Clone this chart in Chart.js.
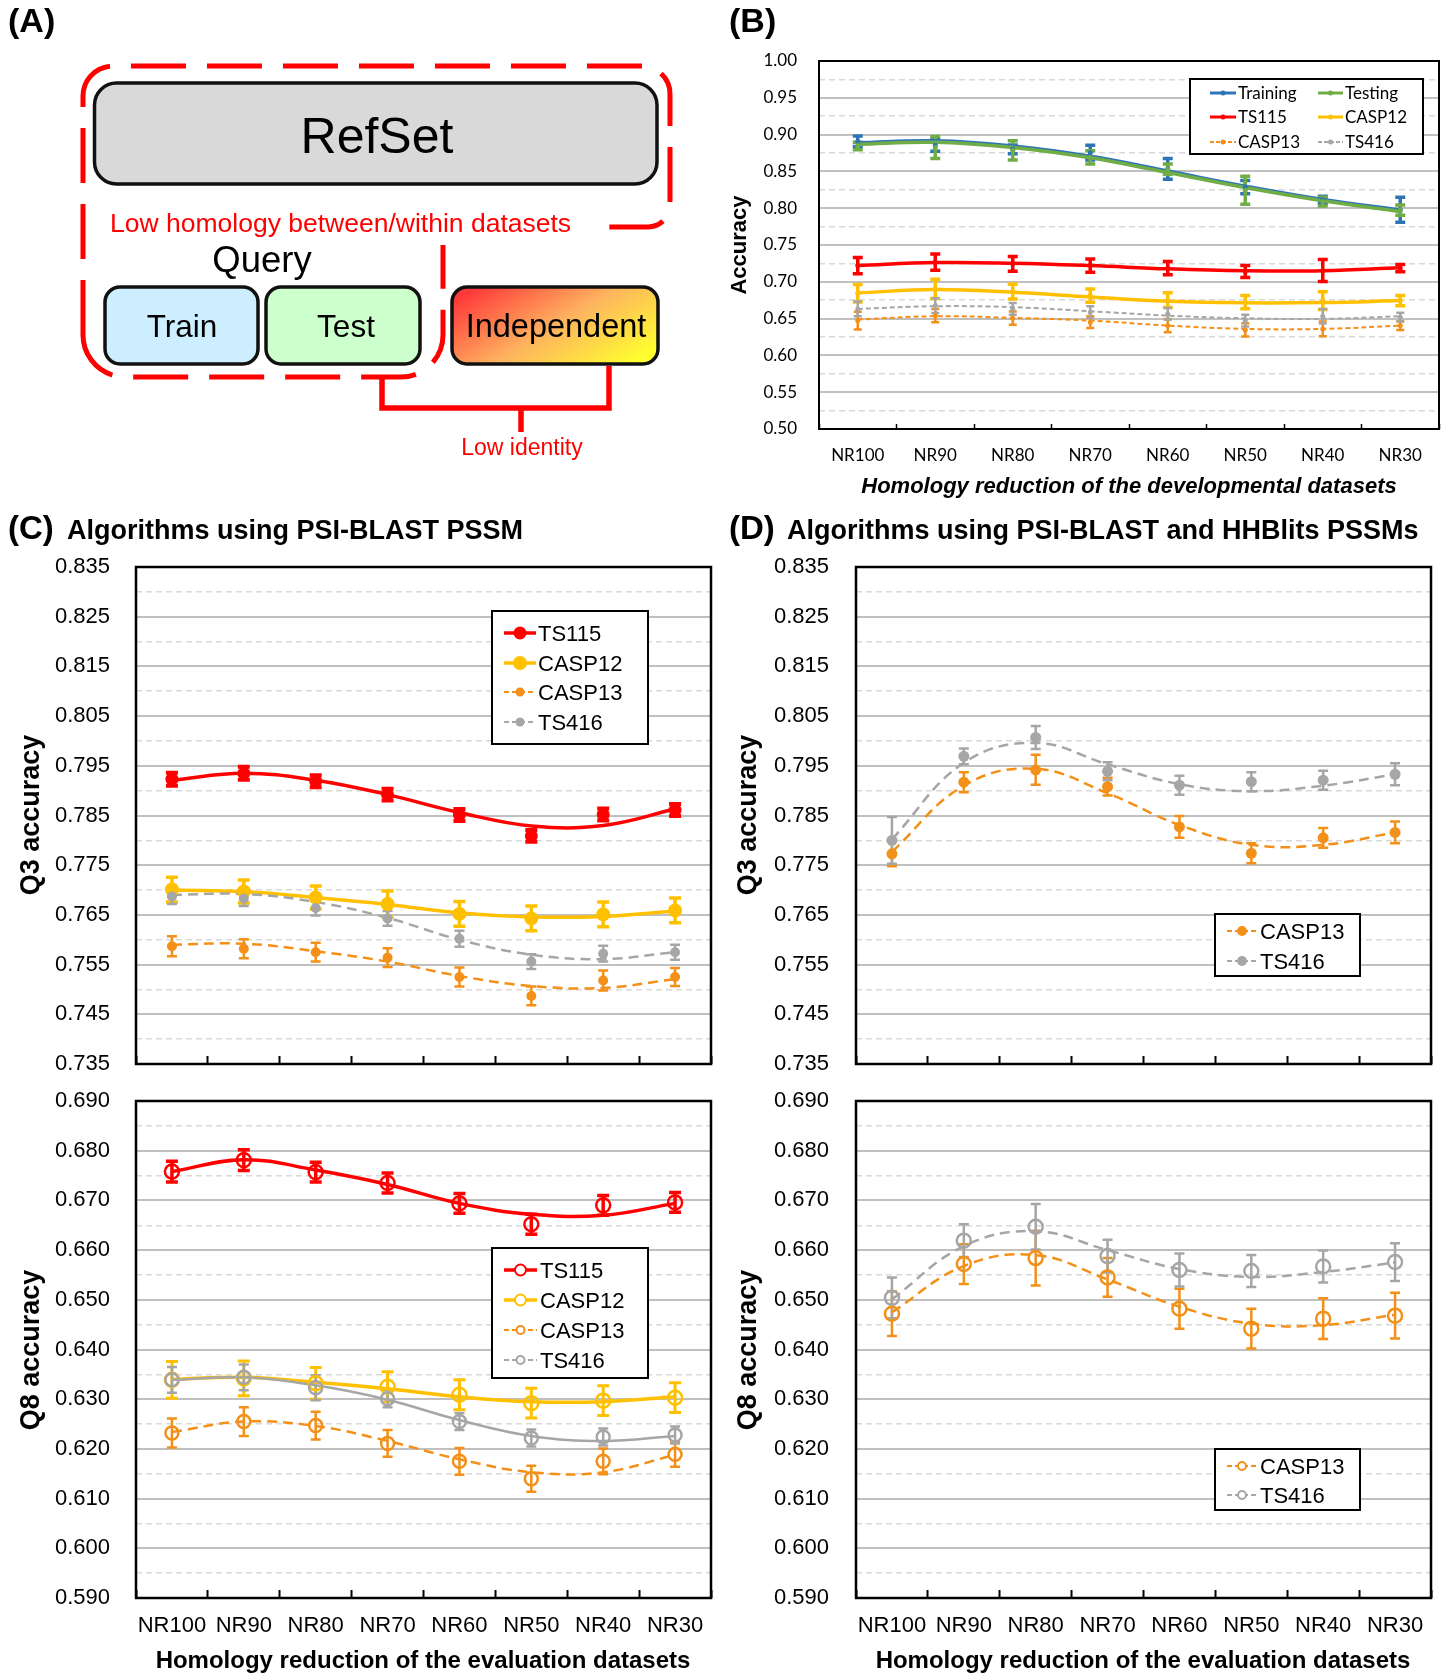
<!DOCTYPE html>
<html>
<head>
<meta charset="utf-8">
<title>Homology reduction and secondary structure accuracy</title>
<script src="https://cdn.jsdelivr.net/npm/chart.js@4.4.1/dist/chart.umd.min.js"></script>
<style>
  html, body { margin: 0; padding: 0; background: #fff; }
  #page { position: relative; width: 1450px; height: 1673px; overflow: hidden; background: #fff; }
  .chartbox { position: absolute; }
  #overlay { position: absolute; left: 0; top: 0; pointer-events: none; }
</style>
</head>
<body>
<div id="page">
  <div id="charts"></div>
  <svg id="overlay" width="1450" height="1673" viewBox="0 0 1450 1673"
       font-family="'Liberation Sans', Arial, sans-serif">
    <defs>
      <linearGradient id="indGrad" x1="0" y1="0.2" x2="1" y2="0.8">
        <stop offset="0" stop-color="#ff3a3a"/>
        <stop offset="0.5" stop-color="#fdb35f"/>
        <stop offset="1" stop-color="#ffff2e"/>
      </linearGradient>
    </defs>

    <!-- (A) dataset scheme -->
    <text x="8" y="32" font-size="34" font-weight="bold">(A)</text>
    <path d="M83,335 L83,96 A30,30 0 0 1 113,66 L642,66 A28,28 0 0 1 670,94 L670,205 A22,22 0 0 1 648,227 L443,227 L443,335 A42,42 0 0 1 401,377 L125,377 A42,42 0 0 1 83,335 Z"
          fill="none" stroke="#ff0000" stroke-width="5" stroke-dasharray="55 21"/>
    <rect x="100" y="203" width="505" height="42" fill="#fff"/>
    <text x="110" y="232" font-size="26.5" fill="#ff0000">Low homology between/within datasets</text>
    <rect x="94.5" y="83" width="562.5" height="101" rx="22" fill="#d9d9d9" stroke="#111" stroke-width="3.5"/>
    <text x="377" y="153" font-size="50" text-anchor="middle">RefSet</text>
    <text x="262" y="272" font-size="36.5" text-anchor="middle">Query</text>
    <rect x="105" y="287" width="153" height="77" rx="15" fill="#cdeeff" stroke="#111" stroke-width="3.5"/>
    <text x="182" y="337" font-size="31.5" text-anchor="middle">Train</text>
    <rect x="266" y="287" width="154" height="77" rx="15" fill="#ccffcc" stroke="#111" stroke-width="3.5"/>
    <text x="346" y="337" font-size="31.5" text-anchor="middle">Test</text>
    <rect x="452" y="287" width="206" height="77" rx="15" fill="url(#indGrad)" stroke="#111" stroke-width="3.5"/>
    <text x="556" y="337" font-size="32.5" text-anchor="middle">Independent</text>
    <path d="M382,377 L382,408 L609,408 L609,366 M521,408 L521,432" fill="none" stroke="#ff0000" stroke-width="5.5"/>
    <text x="522" y="455" font-size="23" fill="#ff0000" text-anchor="middle">Low identity</text>

    <!-- panel labels and titles -->
    <text x="729" y="32" font-size="34" font-weight="bold">(B)</text>
    <text x="8" y="539" font-size="33" font-weight="bold">(C)</text>
    <text x="67" y="539" font-size="27" font-weight="bold">Algorithms using PSI-BLAST PSSM</text>
    <text x="729" y="539" font-size="33" font-weight="bold">(D)</text>
    <text x="787" y="539" font-size="27" font-weight="bold">Algorithms using PSI-BLAST and HHBlits PSSMs</text>

    <!-- axis titles -->
    <text transform="translate(738,245) rotate(-90)" dy="0.35em" text-anchor="middle" font-size="22" font-weight="bold">Accuracy</text>
    <text x="1129" y="493" text-anchor="middle" font-size="22" font-weight="bold" font-style="italic">Homology reduction of the developmental datasets</text>
    <text transform="translate(30,815) rotate(-90)" dy="0.35em" text-anchor="middle" font-size="27" font-weight="bold">Q3 accuracy</text>
    <text transform="translate(30,1350) rotate(-90)" dy="0.35em" text-anchor="middle" font-size="27" font-weight="bold">Q8 accuracy</text>
    <text transform="translate(747,815) rotate(-90)" dy="0.35em" text-anchor="middle" font-size="27" font-weight="bold">Q3 accuracy</text>
    <text transform="translate(747,1350) rotate(-90)" dy="0.35em" text-anchor="middle" font-size="27" font-weight="bold">Q8 accuracy</text>
    <text x="423" y="1668" text-anchor="middle" font-size="24" font-weight="bold">Homology reduction of the evaluation datasets</text>
    <text x="1143" y="1668" text-anchor="middle" font-size="24" font-weight="bold">Homology reduction of the evaluation datasets</text>

    <g id="legends"></g>
  </svg>
</div>

<script>
// ---- categories ----
const CATS = ['NR100', 'NR90', 'NR80', 'NR70', 'NR60', 'NR50', 'NR40', 'NR30'];

// ---- (B) developmental datasets: mean, error, trend ----
const devTrainMean  = [0.891, 0.8855, 0.880, 0.8755, 0.8535, 0.8285, 0.8113, 0.798];
const devTrainErr   = [0.007, 0.008, 0.006, 0.010, 0.014, 0.009, 0.005, 0.017];
const devTrainFit   = [0.889, 0.8915, 0.8845, 0.8705, 0.8505, 0.830, 0.8118, 0.7975];
const devTestMean   = [0.8845, 0.8825, 0.8785, 0.869, 0.853, 0.8245, 0.809, 0.7975];
const devTestErr    = [0.005, 0.015, 0.013, 0.009, 0.007, 0.019, 0.006, 0.007];
const devTestFit    = [0.887, 0.8895, 0.8825, 0.8685, 0.8485, 0.828, 0.810, 0.7955];
const devTS115Mean  = [0.7221, 0.7267, 0.7244, 0.7220, 0.7185, 0.7140, 0.7153, 0.7185];
const devTS115Err   = [0.011, 0.011, 0.010, 0.009, 0.009, 0.008, 0.015, 0.005];
const devTS115Fit   = [0.7221, 0.7262, 0.7253, 0.7221, 0.7176, 0.7150, 0.7150, 0.7190];
const devCASP12Mean = [0.6845, 0.6904, 0.6868, 0.6813, 0.6750, 0.6723, 0.6745, 0.6745];
const devCASP12Err  = [0.012, 0.013, 0.010, 0.009, 0.010, 0.009, 0.012, 0.007];
const devCASP12Fit  = [0.6849, 0.6895, 0.6859, 0.6795, 0.6736, 0.6714, 0.6718, 0.6745];
const devCASP13Mean = [0.6473, 0.6541, 0.6505, 0.6451, 0.6405, 0.6346, 0.6360, 0.6405];
const devCASP13Err  = [0.012, 0.009, 0.009, 0.008, 0.009, 0.009, 0.010, 0.006];
const devCASP13Fit  = [0.6487, 0.6532, 0.6510, 0.6473, 0.6405, 0.6360, 0.6360, 0.6405];
const devTS416Mean  = [0.6632, 0.6677, 0.6632, 0.6587, 0.6564, 0.6473, 0.6532, 0.6519];
const devTS416Err   = [0.010, 0.010, 0.008, 0.008, 0.008, 0.008, 0.010, 0.006];
const devTS416Fit   = [0.6632, 0.6668, 0.6655, 0.6600, 0.6541, 0.6505, 0.6496, 0.6532];

// ---- (C) PSI-BLAST PSSM, Q3 ----
const pQ3TS115Mean  = [0.7923, 0.7935, 0.7919, 0.7892, 0.7851, 0.7809, 0.7852, 0.7861];
const pQ3TS115Err   = [0.0013, 0.0013, 0.0012, 0.0012, 0.0012, 0.0012, 0.0012, 0.0012];
const pQ3TS115Fit   = [0.7921, 0.7935, 0.7921, 0.7892, 0.7856, 0.7829, 0.7830, 0.7863];
const pQ3CASP12Mean = [0.7701, 0.7697, 0.7685, 0.7672, 0.7652, 0.7643, 0.7651, 0.7659];
const pQ3CASP12Err  = [0.0025, 0.0023, 0.0023, 0.0026, 0.0025, 0.0025, 0.0025, 0.0025];
const pQ3CASP12Fit  = [0.7700, 0.7697, 0.7685, 0.7671, 0.7654, 0.7646, 0.7647, 0.7658];
const pQ3CASP13Mean = [0.7587, 0.7582, 0.7575, 0.7564, 0.7525, 0.7487, 0.7518, 0.7525];
const pQ3CASP13Err  = [0.0020, 0.0019, 0.0019, 0.0019, 0.0019, 0.0019, 0.0020, 0.0018];
const pQ3CASP13Fit  = [0.7590, 0.7592, 0.7577, 0.7556, 0.7527, 0.7507, 0.7503, 0.7521];
const pQ3TS416Mean  = [0.7687, 0.7683, 0.7664, 0.7643, 0.7602, 0.7556, 0.7572, 0.7575];
const pQ3TS416Err   = [0.0015, 0.0015, 0.0015, 0.0015, 0.0016, 0.0015, 0.0016, 0.0015];
const pQ3TS416Fit   = [0.7690, 0.7692, 0.7676, 0.7644, 0.7600, 0.7570, 0.7561, 0.7575];

// ---- (C) PSI-BLAST PSSM, Q8 ----
const pQ8TS115Mean  = [0.6758, 0.6781, 0.6757, 0.6735, 0.6694, 0.6652, 0.6690, 0.6696];
const pQ8TS115Err   = [0.0021, 0.0021, 0.0020, 0.0020, 0.0020, 0.0020, 0.0020, 0.0020];
const pQ8TS115Fit   = [0.6758, 0.6782, 0.6761, 0.6732, 0.6694, 0.6672, 0.6670, 0.6694];
const pQ8CASP12Mean = [0.6339, 0.6342, 0.6332, 0.6325, 0.6309, 0.6292, 0.6297, 0.6303];
const pQ8CASP12Err  = [0.0037, 0.0035, 0.0032, 0.0030, 0.0030, 0.0030, 0.0030, 0.0030];
const pQ8CASP12Fit  = [0.6340, 0.6344, 0.6334, 0.6321, 0.6305, 0.6295, 0.6295, 0.6305];
const pQ8CASP13Mean = [0.6232, 0.6255, 0.6247, 0.6211, 0.6175, 0.6140, 0.6175, 0.6189];
const pQ8CASP13Err  = [0.0029, 0.0029, 0.0028, 0.0027, 0.0027, 0.0026, 0.0026, 0.0025];
const pQ8CASP13Fit  = [0.6234, 0.6255, 0.6246, 0.6216, 0.6179, 0.6153, 0.6153, 0.6188];
const pQ8TS416Mean  = [0.6339, 0.6344, 0.6323, 0.6301, 0.6255, 0.6222, 0.6224, 0.6228];
const pQ8TS416Err   = [0.0026, 0.0026, 0.0025, 0.0017, 0.0017, 0.0017, 0.0017, 0.0017];
const pQ8TS416Fit   = [0.6339, 0.6344, 0.6328, 0.6299, 0.6258, 0.6226, 0.6216, 0.6226];

// ---- (D) PSI-BLAST + HHBlits PSSMs, Q3 ----
const hQ3CASP13Mean = [0.7773, 0.7917, 0.7942, 0.7908, 0.7827, 0.7774, 0.7805, 0.7816];
const hQ3CASP13Err  = [0.0025, 0.0020, 0.0030, 0.0018, 0.0022, 0.0020, 0.0020, 0.0022];
const hQ3CASP13Fit  = [0.7777, 0.7910, 0.7944, 0.7895, 0.7831, 0.7791, 0.7791, 0.7816];
const hQ3TS416Mean  = [0.7800, 0.7969, 0.8007, 0.7939, 0.7911, 0.7918, 0.7921, 0.7933];
const hQ3TS416Err   = [0.0047, 0.0016, 0.0023, 0.0018, 0.0019, 0.0019, 0.0019, 0.0022];
const hQ3TS416Fit   = [0.7802, 0.7956, 0.7996, 0.7953, 0.7913, 0.7899, 0.7910, 0.7933];

// ---- (D) PSI-BLAST + HHBlits PSSMs, Q8 ----
const hQ8CASP13Mean = [0.6472, 0.6572, 0.6584, 0.6545, 0.6482, 0.6442, 0.6462, 0.6468];
const hQ8CASP13Err  = [0.0045, 0.0040, 0.0055, 0.0039, 0.0040, 0.0040, 0.0041, 0.0046];
const hQ8CASP13Fit  = [0.6475, 0.6568, 0.6590, 0.6541, 0.6486, 0.6452, 0.6449, 0.6470];
const hQ8TS416Mean  = [0.6504, 0.6619, 0.6647, 0.6588, 0.6560, 0.6558, 0.6567, 0.6576];
const hQ8TS416Err   = [0.0041, 0.0033, 0.0046, 0.0033, 0.0033, 0.0032, 0.0032, 0.0038];
const hQ8TS416Fit   = [0.6501, 0.6608, 0.6638, 0.6600, 0.6562, 0.6546, 0.6556, 0.6575];

// ---- colours ----
const RED = '#ff0000', YEL = '#ffc000', ORG = '#f39019', GRY = '#a6a6a6', BLU = '#2e75b6', GRN = '#70ad47';

Chart.defaults.font.family = "'Liberation Sans', Arial, sans-serif";
Chart.defaults.color = '#000';

// vertical error bars with caps, positioned through the chart scales
const errorBars = {
  id: 'errorBars',
  beforeDatasetsDraw(chart) {
    const { ctx } = chart;
    const xs = chart.scales.x, ys = chart.scales.y;
    chart.data.datasets.forEach(ds => {
      if (!ds.errors) return;
      ctx.save();
      ctx.strokeStyle = ds.errColor;
      ctx.lineWidth = ds.errWidth;
      ds.data.forEach((v, j) => {
        const px = xs.getPixelForValue(j);
        const hi = ys.getPixelForValue(v + ds.errors[j]);
        const lo = ys.getPixelForValue(v - ds.errors[j]);
        ctx.beginPath();
        ctx.moveTo(px, hi); ctx.lineTo(px, lo);
        ctx.moveTo(px - ds.capHalf, hi); ctx.lineTo(px + ds.capHalf, hi);
        ctx.moveTo(px - ds.capHalf, lo); ctx.lineTo(px + ds.capHalf, lo);
        ctx.stroke();
      });
      ctx.restore();
    });
  }
};

// black box around the plot area
const plotFrame = {
  id: 'plotFrame',
  afterDatasetsDraw(chart) {
    const { ctx, chartArea: a } = chart;
    ctx.save();
    ctx.strokeStyle = '#000';
    ctx.lineWidth = chart.options.frameWidth || 2;
    ctx.strokeRect(a.left, a.top, a.right - a.left, a.bottom - a.top);
    ctx.restore();
  }
};

function datasetsFor(series) {
  const fits = series.map((s, k) => ({
    label: s.label + ' trend',
    data: s.fit,
    borderColor: s.color,
    borderWidth: s.lw,
    borderDash: s.dash || [],
    tension: 0.4,
    pointRadius: 0,
    fill: false,
    order: 1000 - k
  }));
  const pts = series.map((s, k) => ({
    label: s.label,
    data: s.mean,
    showLine: false,
    pointStyle: 'circle',
    pointRadius: s.r,
    pointBackgroundColor: s.open ? 'rgba(255,255,255,0)' : s.color,
    pointBorderColor: s.color,
    pointBorderWidth: s.open ? s.ow : 0,
    errors: s.err,
    errColor: s.color,
    errWidth: s.ew,
    capHalf: s.cap,
    order: 500 - k
  }));
  return fits.concat(pts);
}

function makeChart(box, frame, cfg) {
  const div = document.createElement('div');
  div.className = 'chartbox';
  div.style.left = box.x + 'px';
  div.style.top = box.y + 'px';
  div.style.width = box.w + 'px';
  div.style.height = box.h + 'px';
  const cv = document.createElement('canvas');
  div.appendChild(cv);
  document.getElementById('charts').appendChild(div);
  const yW = frame.l - box.x;
  const xH = box.y + box.h - frame.b;
  return new Chart(cv, {
    type: 'line',
    data: { labels: CATS, datasets: datasetsFor(cfg.series) },
    options: {
      responsive: true,
      maintainAspectRatio: false,
      animation: false,
      events: [],
      frameWidth: cfg.frameWidth,
      layout: { padding: { left: 0, top: frame.t - box.y, right: box.x + box.w - frame.r, bottom: 0 } },
      plugins: { legend: { display: false }, tooltip: { enabled: false } },
      scales: {
        x: {
          type: 'category',
          offset: true,
          grid: { offset: true, drawOnChartArea: false, drawTicks: true, tickLength: -cfg.tickLen,
                  tickColor: '#000', tickWidth: cfg.tickWidth },
          border: { display: false },
          ticks: { display: cfg.xLabels, font: cfg.xFont, color: '#000', padding: cfg.xPad,
                   maxRotation: 0, autoSkip: false },
          afterFit: s => { s.height = xH; }
        },
        y: {
          min: cfg.min, max: cfg.max,
          ticks: { stepSize: cfg.step, autoSkip: false, font: cfg.yFont, color: '#000', padding: cfg.yPad,
                   callback: (v, i) => (i % 2 === 0 ? v.toFixed(cfg.dec) : '') },
          grid: { drawTicks: false,
                  color: c => (c.index % 2 === 0 ? '#c0c0c0' : '#d9d9d9'),
                  lineWidth: c => (c.index % 2 === 0 ? 2 : 1.5) },
          border: { display: false, dash: c => (c.index % 2 === 0 ? [] : [6, 4]) },
          afterFit: s => { s.width = yW; }
        }
      }
    },
    plugins: [errorBars, plotFrame]
  });
}

// ---- series styling ----
const devSeries = [
  { label: 'Training', mean: devTrainMean, err: devTrainErr, fit: devTrainFit, color: BLU, lw: 3.5, r: 2.5, ew: 3.5, cap: 5 },
  { label: 'Testing',  mean: devTestMean,  err: devTestErr,  fit: devTestFit,  color: GRN, lw: 3.5, r: 2.5, ew: 3.5, cap: 5 },
  { label: 'TS115',    mean: devTS115Mean, err: devTS115Err, fit: devTS115Fit, color: RED, lw: 3.5, r: 2.5, ew: 3.5, cap: 5 },
  { label: 'CASP12',   mean: devCASP12Mean, err: devCASP12Err, fit: devCASP12Fit, color: YEL, lw: 3.5, r: 2.5, ew: 3.5, cap: 5 },
  { label: 'CASP13',   mean: devCASP13Mean, err: devCASP13Err, fit: devCASP13Fit, color: ORG, lw: 2, dash: [5, 3], r: 2.5, ew: 2.5, cap: 4 },
  { label: 'TS416',    mean: devTS416Mean, err: devTS416Err, fit: devTS416Fit, color: GRY, lw: 2, dash: [5, 3], r: 2.5, ew: 2.5, cap: 4 }
];
const pQ3Series = [
  { label: 'TS115',  mean: pQ3TS115Mean,  err: pQ3TS115Err,  fit: pQ3TS115Fit,  color: RED, lw: 3.5, r: 6.5, ew: 4, cap: 6 },
  { label: 'CASP12', mean: pQ3CASP12Mean, err: pQ3CASP12Err, fit: pQ3CASP12Fit, color: YEL, lw: 3.5, r: 7, ew: 3.5, cap: 6 },
  { label: 'CASP13', mean: pQ3CASP13Mean, err: pQ3CASP13Err, fit: pQ3CASP13Fit, color: ORG, lw: 2.5, dash: [10, 6], r: 5, ew: 2.5, cap: 5 },
  { label: 'TS416',  mean: pQ3TS416Mean,  err: pQ3TS416Err,  fit: pQ3TS416Fit,  color: GRY, lw: 2.5, dash: [10, 6], r: 5, ew: 2.5, cap: 5 }
];
const pQ8Series = [
  { label: 'TS115',  mean: pQ8TS115Mean,  err: pQ8TS115Err,  fit: pQ8TS115Fit,  color: RED, lw: 3.5, r: 7, open: true, ow: 2.5, ew: 3.5, cap: 6 },
  { label: 'CASP12', mean: pQ8CASP12Mean, err: pQ8CASP12Err, fit: pQ8CASP12Fit, color: YEL, lw: 3.5, r: 7, open: true, ow: 2.5, ew: 3, cap: 6 },
  { label: 'CASP13', mean: pQ8CASP13Mean, err: pQ8CASP13Err, fit: pQ8CASP13Fit, color: ORG, lw: 2.5, dash: [10, 6], r: 6.5, open: true, ow: 2.5, ew: 2.5, cap: 5 },
  { label: 'TS416',  mean: pQ8TS416Mean,  err: pQ8TS416Err,  fit: pQ8TS416Fit,  color: GRY, lw: 2.5, r: 6.5, open: true, ow: 2.5, ew: 2.5, cap: 5 }
];
const hQ3Series = [
  { label: 'CASP13', mean: hQ3CASP13Mean, err: hQ3CASP13Err, fit: hQ3CASP13Fit, color: ORG, lw: 2.5, dash: [10, 6], r: 5.5, ew: 2.5, cap: 5 },
  { label: 'TS416',  mean: hQ3TS416Mean,  err: hQ3TS416Err,  fit: hQ3TS416Fit,  color: GRY, lw: 2.5, dash: [10, 6], r: 5.5, ew: 2.5, cap: 5 }
];
const hQ8Series = [
  { label: 'CASP13', mean: hQ8CASP13Mean, err: hQ8CASP13Err, fit: hQ8CASP13Fit, color: ORG, lw: 2.5, dash: [10, 6], r: 7, open: true, ow: 2.5, ew: 2.5, cap: 5 },
  { label: 'TS416',  mean: hQ8TS416Mean,  err: hQ8TS416Err,  fit: hQ8TS416Fit,  color: GRY, lw: 2.5, dash: [10, 6], r: 7, open: true, ow: 2.5, ew: 2.5, cap: 5 }
];

// ---- charts ----
const evalFont = { size: 22 };
const devFont = { family: 'Lato', size: 17 };

makeChart({ x: 725, y: 11, w: 725, h: 469 }, { l: 819, t: 61, r: 1439, b: 429 },
  { series: devSeries, min: 0.5, max: 1.0, step: 0.025, dec: 2, yFont: devFont, yPad: 22,
    xLabels: true, xFont: devFont, xPad: 21.4, tickLen: 5, tickWidth: 1.5, frameWidth: 2 });

makeChart({ x: 0, y: 517, w: 745, h: 597 }, { l: 136, t: 567, r: 711, b: 1064 },
  { series: pQ3Series, min: 0.735, max: 0.835, step: 0.005, dec: 3, yFont: evalFont, yPad: 26,
    xLabels: false, xFont: evalFont, xPad: 0, tickLen: 8, tickWidth: 2, frameWidth: 2.5 });

makeChart({ x: 0, y: 1051, w: 745, h: 622 }, { l: 136, t: 1101, r: 711, b: 1598 },
  { series: pQ8Series, min: 0.59, max: 0.69, step: 0.005, dec: 3, yFont: evalFont, yPad: 26,
    xLabels: true, xFont: evalFont, xPad: 22.8, tickLen: 8, tickWidth: 2, frameWidth: 2.5 });

makeChart({ x: 725, y: 517, w: 725, h: 597 }, { l: 856, t: 567, r: 1431, b: 1064 },
  { series: hQ3Series, min: 0.735, max: 0.835, step: 0.005, dec: 3, yFont: evalFont, yPad: 27,
    xLabels: false, xFont: evalFont, xPad: 0, tickLen: 8, tickWidth: 2, frameWidth: 2.5 });

makeChart({ x: 725, y: 1051, w: 725, h: 622 }, { l: 856, t: 1101, r: 1431, b: 1598 },
  { series: hQ8Series, min: 0.59, max: 0.69, step: 0.005, dec: 3, yFont: evalFont, yPad: 27,
    xLabels: true, xFont: evalFont, xPad: 22.8, tickLen: 8, tickWidth: 2, frameWidth: 2.5 });

// ---- legends ----
const SVGNS = 'http://www.w3.org/2000/svg';
const legendRoot = document.getElementById('legends');
function el(tag, attrs, parent) {
  const e = document.createElementNS(SVGNS, tag);
  for (const k in attrs) e.setAttribute(k, attrs[k]);
  parent.appendChild(e);
  return e;
}
function legendBox(box, entries, font) {
  const g = el('g', {}, legendRoot);
  el('rect', { x: box.x, y: box.y, width: box.w, height: box.h, fill: '#fff', stroke: '#000', 'stroke-width': 2 }, g);
  entries.forEach(e => {
    const s = e.s;
    el('line', { x1: e.x0, y1: e.cy, x2: e.x1, y2: e.cy, stroke: s.color, 'stroke-width': e.llw,
                 'stroke-dasharray': s.dash ? e.ldash : 'none' }, g);
    el('circle', { cx: (e.x0 + e.x1) / 2, cy: e.cy, r: e.lr, fill: s.open ? '#fff' : s.color,
                   stroke: s.color, 'stroke-width': s.open ? 2 : 0 }, g);
    const t = el('text', { x: e.tx, y: e.cy, dy: '0.35em', 'font-size': font.size, 'font-family': font.family }, g);
    t.textContent = s.label;
  });
}
const LF = "'Liberation Sans', Arial, sans-serif";

legendBox({ x: 1190, y: 79, w: 233, h: 75 }, [
  { s: devSeries[0], cy: 93,  x0: 1210, x1: 1236, tx: 1238, llw: 3, lr: 2.5 },
  { s: devSeries[1], cy: 93,  x0: 1318, x1: 1343, tx: 1345, llw: 3, lr: 2.5 },
  { s: devSeries[2], cy: 117, x0: 1210, x1: 1236, tx: 1238, llw: 3, lr: 2.5 },
  { s: devSeries[3], cy: 117, x0: 1318, x1: 1343, tx: 1345, llw: 3, lr: 2.5 },
  { s: devSeries[4], cy: 142, x0: 1210, x1: 1236, tx: 1238, llw: 1.8, lr: 2.5, ldash: '4 2' },
  { s: devSeries[5], cy: 142, x0: 1318, x1: 1343, tx: 1345, llw: 1.8, lr: 2.5, ldash: '4 2' }
], { family: 'Lato', size: 17 });

legendBox({ x: 492, y: 611, w: 156, h: 133 }, [
  { s: pQ3Series[0], cy: 633, x0: 504, x1: 536, tx: 538, llw: 3.5, lr: 6.5 },
  { s: pQ3Series[1], cy: 663, x0: 504, x1: 536, tx: 538, llw: 3.5, lr: 7 },
  { s: pQ3Series[2], cy: 692, x0: 504, x1: 536, tx: 538, llw: 2, lr: 4.5, ldash: '5 3' },
  { s: pQ3Series[3], cy: 722, x0: 504, x1: 536, tx: 538, llw: 2, lr: 4.5, ldash: '5 3' }
], { family: LF, size: 22 });

legendBox({ x: 492, y: 1248, w: 156, h: 130 }, [
  { s: pQ8Series[0], cy: 1270, x0: 504, x1: 537, tx: 540, llw: 3.5, lr: 5.5 },
  { s: pQ8Series[1], cy: 1300, x0: 504, x1: 537, tx: 540, llw: 3.5, lr: 5.5 },
  { s: pQ8Series[2], cy: 1330, x0: 504, x1: 537, tx: 540, llw: 2, lr: 4, ldash: '5 3' },
  { s: Object.assign({}, pQ8Series[3], { dash: [5, 3] }), cy: 1360, x0: 504, x1: 537, tx: 540, llw: 2, lr: 4, ldash: '5 3' }
], { family: LF, size: 22 });

legendBox({ x: 1215, y: 914, w: 145, h: 62 }, [
  { s: hQ3Series[0], cy: 931, x0: 1227, x1: 1257, tx: 1260, llw: 2, lr: 5, ldash: '5 3' },
  { s: hQ3Series[1], cy: 961, x0: 1227, x1: 1257, tx: 1260, llw: 2, lr: 5, ldash: '5 3' }
], { family: LF, size: 22 });

legendBox({ x: 1215, y: 1449, w: 145, h: 61 }, [
  { s: hQ8Series[0], cy: 1466, x0: 1227, x1: 1257, tx: 1260, llw: 2, lr: 4, ldash: '5 3' },
  { s: hQ8Series[1], cy: 1495, x0: 1227, x1: 1257, tx: 1260, llw: 2, lr: 4, ldash: '5 3' }
], { family: LF, size: 22 });
</script>
</body>
</html>
